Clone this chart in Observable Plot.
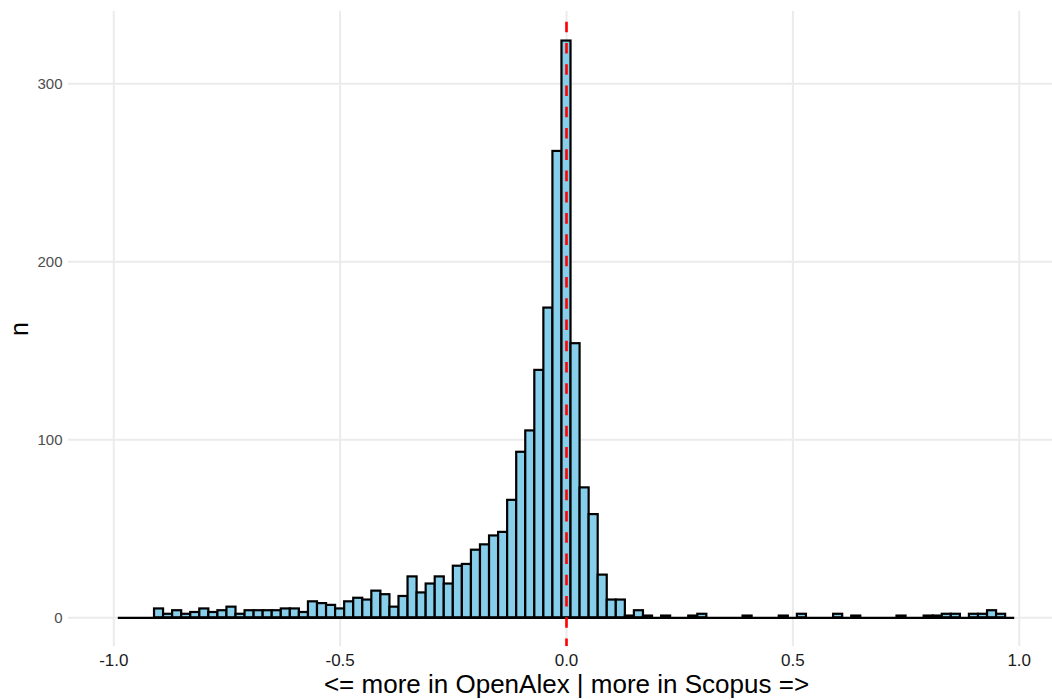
<!DOCTYPE html>
<html>
<head>
<meta charset="utf-8">
<script src="https://cdn.jsdelivr.net/npm/d3@7"></script>
<script src="https://cdn.jsdelivr.net/npm/@observablehq/plot@0.6"></script>
<style>
  html, body { margin: 0; padding: 0; background: #ffffff; }
  #chart svg { display: block; }
</style>
</head>
<body>
<div id="chart"></div>
<script>
// Histogram counts, bins of width 0.02 centred on multiples of 0.02, from -0.99 to 0.99
const binStart = -0.99;
const binWidth = 0.02;
const counts = [0,0,0,0,5,2,4,2,3,5,3,4,6,2,4,4,4,4,5,5,3,9,8,7,
  5,9,11,10,15,13,6,12,23,14,19,23,19,29,30,38,41,46,48,66,
  93,105,139,174,262,324,154,73,58,24,10,10,1,4,1,
  0,1,0,0,1,2,0,0,0,0,1,0,0,0,1,0,2,0,0,0,2,0,1,0,0,0,0,1,0,0,1,1,2,2,0,2,2,4,2,0];
const xTicks = [-1, -0.5, 0, 0.5, 1];
const xTickLabels = ["-1.0", "-0.5", "0.0", "0.5", "1.0"];
const yTicks = [0, 100, 200, 300];
const yTickLabels = ["0", "100", "200", "300"];
const xTitle = "<= more in OpenAlex | more in Scopus =>";
const yTitle = "n";
const refLine = [0];

const bins = counts.map((n, i) => ({
  x1: binStart + i * binWidth,
  x2: binStart + (i + 1) * binWidth,
  n
}));
const binEnd = binStart + counts.length * binWidth;

const chart = Plot.plot({
  width: 1052,
  height: 700,
  marginLeft: 68,
  marginRight: 0,
  marginTop: 11,
  marginBottom: 54,
  style: { fontFamily: "'Liberation Sans', Arial, sans-serif", background: "#ffffff" },
  x: { domain: [-1.1, 1.1], range: [68, 1064], axis: null },
  y: { domain: [-16.1, 340.6], axis: null },
  marks: [
    Plot.ruleY(yTicks, { stroke: "#ebebeb", strokeWidth: 2 }),
    Plot.ruleX(xTicks, { stroke: "#ebebeb", strokeWidth: 2 }),
    Plot.rectY(bins, { x1: "x1", x2: "x2", y1: 0, y2: "n", fill: "#87ceeb", stroke: "#000000", strokeWidth: 2.2 }),
    Plot.ruleY([0], { x1: binStart, x2: binEnd, stroke: "#000000", strokeWidth: 2.2 }),
    Plot.ruleX(refLine, { stroke: "#ff0000", strokeWidth: 2.6, strokeDasharray: "10.6,10.67", strokeDashoffset: 10.6 }),
    Plot.text(yTicks, { y: d => d, text: (d, i) => yTickLabels[i], frameAnchor: "left", textAnchor: "end", lineAnchor: "middle", dx: -6, fontSize: 15, fill: "#4d4d4d" }),
    Plot.text(xTicks, { x: d => d, text: (d, i) => xTickLabels[i], frameAnchor: "bottom", textAnchor: "middle", lineAnchor: "bottom", dy: 19, fontSize: 17, fill: "#1a1a1a" }),
    Plot.text([xTitle], { x: 0, text: d => d, frameAnchor: "bottom", textAnchor: "middle", lineAnchor: "bottom", dy: 46, fontSize: 26, fill: "#000000" }),
    Plot.text([yTitle], { text: d => d, frameAnchor: "left", rotate: -90, textAnchor: "middle", lineAnchor: "bottom", dx: -41, fontSize: 25, fill: "#000000" })
  ]
});
document.getElementById("chart").appendChild(chart);
</script>
</body>
</html>
